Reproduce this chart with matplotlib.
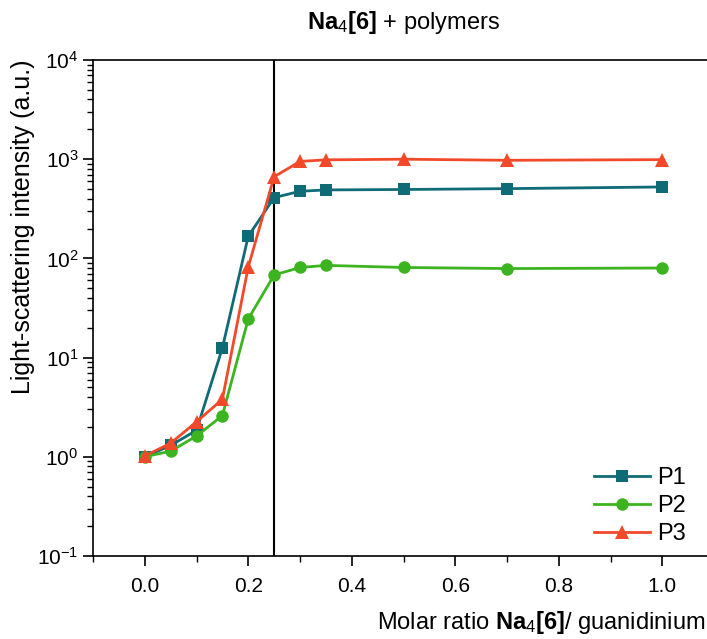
import numpy as np
import matplotlib
matplotlib.use('Agg')
from matplotlib import pyplot as plt
from matplotlib.ticker import MultipleLocator, LogLocator, NullFormatter

plt.rcParams['font.family'] = ['Liberation Sans', 'DejaVu Sans']
plt.rcParams['mathtext.fontset'] = 'custom'
plt.rcParams['mathtext.rm'] = 'Liberation Sans'
plt.rcParams['mathtext.it'] = 'Liberation Sans:italic'
plt.rcParams['mathtext.bf'] = 'Liberation Sans:bold'

# data
ratio = [0.0, 0.05, 0.1, 0.15, 0.2, 0.25, 0.3, 0.35, 0.5, 0.7, 1.0]
p1 = [1.0, 1.3, 1.85, 12.5, 167, 410, 475, 490, 495, 505, 525]
p2 = [1.0, 1.14, 1.62, 2.6, 24.5, 68, 81, 85, 81, 79, 80]
p3 = [1.02, 1.37, 2.25, 3.8, 82, 665, 950, 985, 1000, 975, 990]
labels = ['P1', 'P2', 'P3']
colors = ['#0f6b76', '#3cb41f', '#f2492a']
markers = ['s', 'o', '^']
msizes = [8.5, 9, 10.5]
x_ticks = [0.0, 0.2, 0.4, 0.6, 0.8, 1.0]
stoich = 0.25

fig = plt.figure(figsize=(7.07, 6.39), dpi=100)
ax = fig.add_axes([93/707, 1-556/639, (714-93)/707, 496/639])

for ys, lab, c, m, ms in zip([p1, p2, p3], labels, colors, markers, msizes):
    ax.plot(ratio, ys, color=c, marker=m, markersize=ms, lw=2.0, label=lab,
            markeredgewidth=0)

ax.axvline(stoich, color='black', lw=1.5, zorder=0)

ax.set_yscale('log')
ax.set_ylim(0.1, 1e4)
ax.set_xlim(-0.1, 1.1)
ax.set_xticks(x_ticks)
ax.set_xticklabels(['%.1f' % t for t in x_ticks])
ax.xaxis.set_minor_locator(MultipleLocator(0.1))
ax.yaxis.set_minor_locator(LogLocator(base=10, subs=np.arange(2, 10), numticks=20))
ax.yaxis.set_minor_formatter(NullFormatter())

for s in ax.spines.values():
    s.set_linewidth(1.2)
ax.tick_params(which='major', direction='out', length=7, width=1.2, labelsize=15)
ax.tick_params(which='minor', direction='out', length=4, width=1.0)
ax.tick_params(axis='x', pad=8)

fig.text(403/707, 1-23/639, r'$\mathbf{Na}_4\mathbf{[6]}$ + polymers',
         ha='center', va='center', fontsize=17)
fig.text(541/707, 1-622/639, r'Molar ratio $\mathbf{Na}_4\mathbf{[6]}$/ guanidinium',
         ha='center', va='center', fontsize=17)
fig.text(23/707, 1-227/639, 'Light-scattering intensity (a.u.)',
         rotation=90, ha='center', va='center', fontsize=18)

ax.legend(loc='lower right', bbox_to_anchor=(686/707, 1-545/639),
          bbox_transform=fig.transFigure, frameon=False, fontsize=17,
          handlelength=2.4, handletextpad=0.3, borderpad=0, borderaxespad=0,
          labelspacing=0.25)

fig.savefig('out.png', dpi=100)
